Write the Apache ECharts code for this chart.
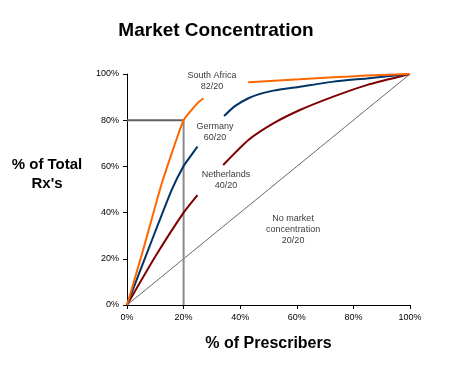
<!DOCTYPE html>
<html><head><meta charset="utf-8">
<script src="https://cdn.jsdelivr.net/npm/echarts@6/dist/echarts.min.js"></script>
<style>html,body{margin:0;padding:0;background:#fff}#c{width:453px;height:385px}</style>
</head><body><div id="c"></div>
<script>
var xTicks = ['0%','20%','40%','60%','80%','100%'];
var yTicks = ['0%','20%','40%','60%','80%','100%'];
var southAfricaLow = [[0,0],[5.5,23],[10.5,45],[12.3,52.7],[14.6,61.3],[17,70],[20,80],[22.8,84.4],[25,87.5],[27,89.5]];
var southAfricaHigh = [[42.8,96.4],[52,97.1],[61,97.7],[72.9,98.6],[84.7,99.3],[100,100]];
var germanyLow = [[0,0],[8,25.5],[15.8,49.8],[19.9,60],[22.8,65],[24.9,68.6]];
var germanyHigh = [[34.3,81.8],[38,86],[42.9,89.5],[47,91.4],[51.7,92.8],[61.1,94.5],[72.9,96.7],[84.7,98.1],[100,100]];
var netherlandsLow = [[0,0],[10,21],[20,40],[24.9,47.6]];
var netherlandsHigh = [[34,60.6],[42.9,71.4],[51.7,78.6],[61.1,84.4],[72.9,90.2],[84.7,95.2],[100,100]];
var noConcentration = [[0,0],[100,100]];
var refHorizontal = [[0,80],[20,80]];
var refVertical = [[20,0],[20,80]];
var annotations = [
  {name:'South Africa\n82/20', value:[30,96.8]},
  {name:'Germany\n60/20', value:[31.1,75.1]},
  {name:'Netherlands\n40/20', value:[35,53.9]},
  {name:'No market\nconcentration\n20/20', value:[58.7,32.5]}
];
var FONT = 'Liberation Sans, Arial, sans-serif';
function seg(data, color, w, z){
  return {type:'line', data:data, showSymbol:false, symbol:'none', smooth:0.2, z:z||3,
    lineStyle:{color:color, width:w}, silent:true, animation:false};
}
var chart = echarts.init(document.getElementById('c'), null, {renderer:'canvas'});
chart.setOption({
  backgroundColor:'#fff',
  animation:false,
  grid:{left:127, right:43, top:74, bottom:80},
  xAxis:{type:'value', min:0, max:100, interval:20,
    name:'% of Prescribers', nameLocation:'middle', nameGap:31,
    nameTextStyle:{fontFamily:FONT, fontSize:16, fontWeight:'bold', color:'#000'},
    axisLine:{lineStyle:{color:'#000', width:1}},
    axisTick:{show:true, length:4, lineStyle:{color:'#000'}},
    axisLabel:{fontFamily:FONT, fontSize:9, color:'#000', margin:8,
      formatter:function(v){return xTicks[Math.round(v/20)];}},
    splitLine:{show:false}},
  yAxis:{type:'value', min:0, max:100, interval:20,
    axisLine:{show:true, lineStyle:{color:'#000', width:1}},
    axisTick:{show:true, length:4, lineStyle:{color:'#000'}},
    axisLabel:{fontFamily:FONT, fontSize:9, color:'#000', margin:8,
      formatter:function(v){return yTicks[Math.round(v/20)];}},
    splitLine:{show:false}},
  graphic:[
    {type:'text', x:216, y:21, style:{text:'Market Concentration', textAlign:'center',
      font:'bold 19px '+FONT, fill:'#000'}},
    {type:'text', x:47, y:155, style:{text:"% of Total\nRx's", textAlign:'center',
      font:'bold 15px '+FONT, fill:'#000', lineHeight:19}}],
  series:[
    seg(noConcentration,'#666666',1,2),
    seg(refHorizontal,'#606060',2,2),
    seg(refVertical,'#8a8a8a',2,2),
    seg(netherlandsLow,'#800000',2),
    seg(netherlandsHigh,'#800000',2),
    seg(germanyLow,'#003366',2),
    seg(germanyHigh,'#003366',2),
    seg(southAfricaLow,'#ff6600',2),
    seg(southAfricaHigh,'#ff6600',2),
    {type:'scatter', data:annotations, symbolSize:0, silent:true, z:5,
      label:{show:true, position:'inside', formatter:'{b}', fontFamily:FONT, fontSize:9,
        color:'#000', lineHeight:11, align:'center', verticalAlign:'middle'}}
  ]
});
</script></body></html>
